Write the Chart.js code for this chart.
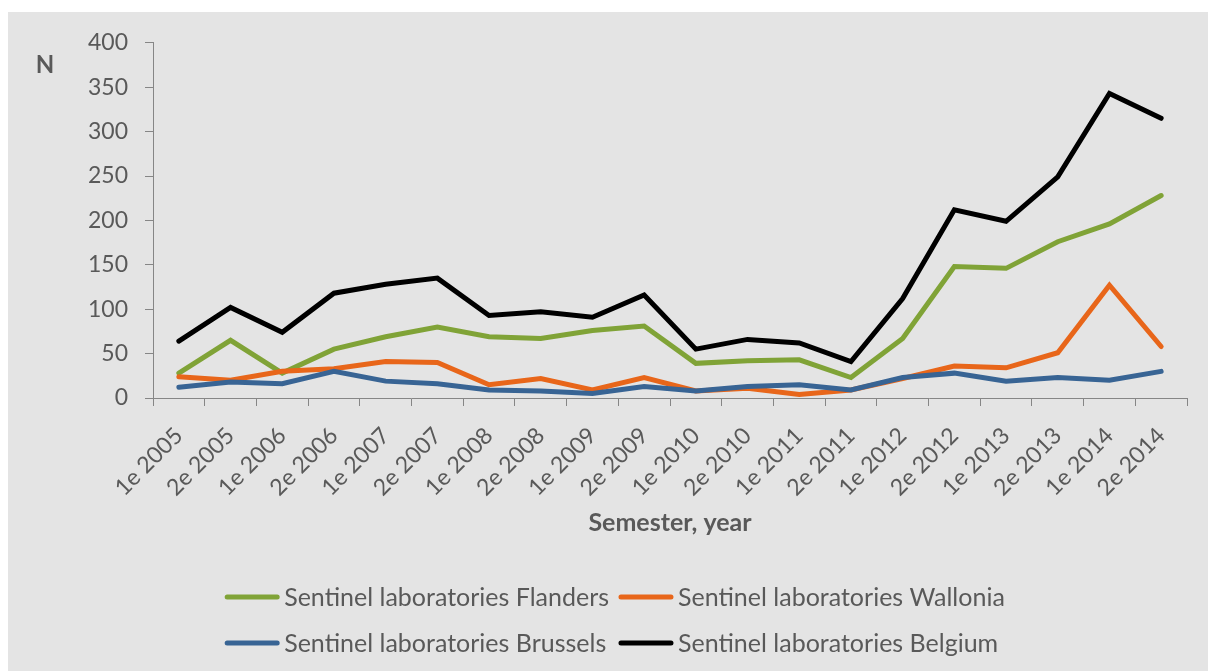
<!DOCTYPE html>
<html>
<head>
<meta charset="utf-8">
<script src="https://cdn.jsdelivr.net/npm/chart.js@4/dist/chart.umd.min.js"></script>
<style>
    body { margin: 0; background: #ffffff; }
    #wrap { position: absolute; left: 8px; top: 12px; width: 1200px; height: 659px; background: #e4e4e4; }
</style>
</head>
<body>
<div id="wrap"><canvas id="sentinel" width="1200" height="659"></canvas></div>
<script>
const semesters = ['1e 2005', '2e 2005', '1e 2006', '2e 2006', '1e 2007', '2e 2007', '1e 2008', '2e 2008', '1e 2009', '2e 2009',
    '1e 2010', '2e 2010', '1e 2011', '2e 2011', '1e 2012', '2e 2012', '1e 2013', '2e 2013', '1e 2014', '2e 2014'];

const flanders = [28, 65, 28, 55, 69, 80, 69, 67, 76, 81, 39, 42, 43, 23, 67, 148, 146, 176, 196, 228];
const wallonia = [24, 20, 30, 33, 41, 40, 15, 22, 9, 23, 8, 11, 4, 9, 22, 36, 34, 51, 127, 58];
const brussels = [12, 18, 16, 30, 19, 16, 9, 8, 5, 13, 8, 13, 15, 9, 23, 28, 19, 23, 20, 30];
const belgium = [64, 102, 74, 118, 128, 135, 93, 97, 91, 116, 55, 66, 62, 41, 112, 212, 199, 249, 343, 315];

const seriesNames = ['Sentinel laboratories Flanders', 'Sentinel laboratories Wallonia',
    'Sentinel laboratories Brussels', 'Sentinel laboratories Belgium'];
const seriesColors = ['#80a337', '#e8661a', '#386494', '#000000'];

const textColor = '#595959';
const axisColor = '#868686';
const fontFamily = 'Lato, Calibri, sans-serif';

Chart.defaults.font.family = fontFamily;
Chart.defaults.color = textColor;

// "N" label and the two-column legend, drawn by hand
const extrasPlugin = {
    id: 'extras',
    afterDraw(chart) {
        const ctx = chart.ctx;
        ctx.save();
        ctx.fillStyle = textColor;
        ctx.font = 'bold 24px ' + fontFamily;
        ctx.textAlign = 'center';
        ctx.textBaseline = 'middle';
        ctx.fillText('N', 37, 53);

        ctx.font = '25px ' + fontFamily;
        ctx.textAlign = 'left';
        const lineLen = 54, gap = 5, colGap = 10;
        const w = seriesNames.map(n => ctx.measureText(n).width);
        const col1 = Math.max(w[0], w[2]);
        const col2 = Math.max(w[1], w[3]);
        const total = lineLen + gap + col1 + colGap + lineLen + gap + col2;
        const x0 = 607 - total / 2;
        const x1 = x0 + lineLen + gap + col1 + colGap;
        const rows = [585, 631];

        seriesNames.forEach((name, i) => {
            const x = i % 2 === 0 ? x0 : x1;
            const y = rows[Math.floor(i / 2)];
            ctx.strokeStyle = seriesColors[i];
            ctx.lineWidth = 5;
            ctx.lineCap = 'round';
            ctx.beginPath();
            ctx.moveTo(x + 2, y);
            ctx.lineTo(x + lineLen - 2, y);
            ctx.stroke();
            ctx.fillText(name, x + lineLen + gap, y + 1);
        });
        ctx.restore();
    }
};

const seriesData = [flanders, wallonia, brussels, belgium];

new Chart(document.getElementById('sentinel'), {
    type: 'line',
    data: {
        labels: semesters,
        datasets: seriesData.map((values, i) => ({
            label: seriesNames[i],
            data: values,
            borderColor: seriesColors[i],
            backgroundColor: seriesColors[i],
            borderWidth: 5,
            borderCapStyle: 'round',
            pointRadius: 0,
            tension: 0,
            order: 4 - i,
        })),
    },
    options: {
        responsive: false,
        animation: false,
        devicePixelRatio: 1,
        layout: {
            padding: { top: 30, right: 21, bottom: 129, left: 0 },
        },
        plugins: {
            legend: { display: false },
            tooltip: { enabled: false },
        },
        scales: {
            x: {
                offset: true,
                grid: {
                    offset: true,
                    drawOnChartArea: false,
                    tickLength: 8,
                    color: axisColor,
                },
                border: { color: axisColor, width: 1 },
                ticks: {
                    autoSkip: false,
                    maxRotation: 45,
                    minRotation: 45,
                    padding: 16,
                    font: { size: 23 },
                    color: textColor,
                },
                title: {
                    display: true,
                    text: 'Semester, year',
                    font: { size: 25, weight: 'bold' },
                    color: textColor,
                    padding: { top: 0, bottom: 4 },
                },
                afterFit(scale) { scale.height = 144; },
            },
            y: {
                min: 0,
                max: 400,
                grid: {
                    drawOnChartArea: false,
                    tickLength: 8,
                    color: axisColor,
                },
                border: { color: axisColor, width: 1 },
                ticks: {
                    stepSize: 50,
                    padding: 17,
                    font: { size: 23 },
                    color: textColor,
                },
                afterFit(scale) { scale.width = 145; },
            },
        },
    },
    plugins: [extrasPlugin],
});
</script>
</body>
</html>
